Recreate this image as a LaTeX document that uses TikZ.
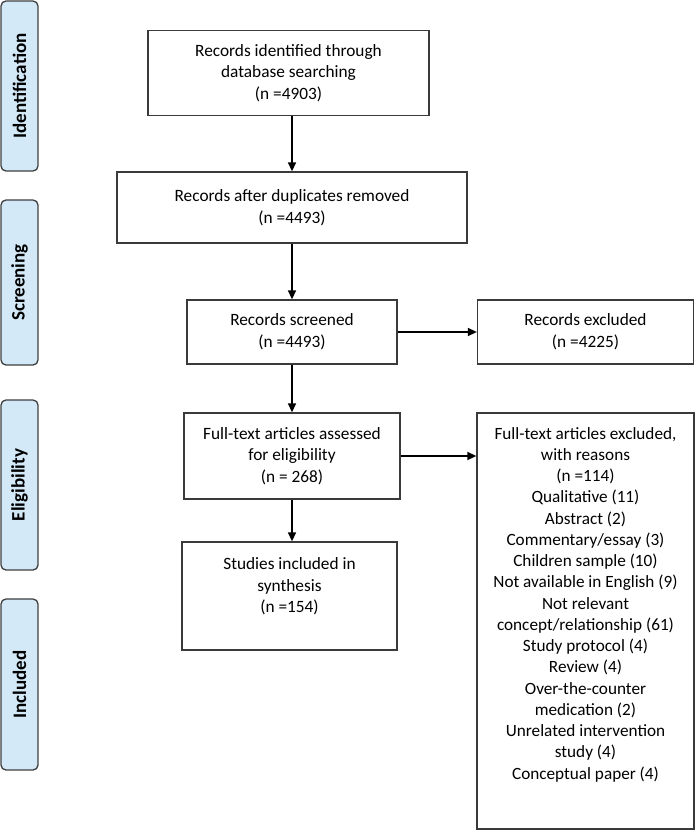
\documentclass[tikz,border=0pt]{standalone}
\usepackage{fontspec}
\setmainfont{Carlito}
\usetikzlibrary{arrows.meta}
\definecolor{sidefill}{HTML}{D3E9F8}
\definecolor{sideline}{HTML}{3F3F3F}
\definecolor{boxline}{HTML}{3A3A3A}
\tikzset{
  x=1pt, y=-1pt,
  sidebox/.style={draw=sideline, line width=1.3pt, fill=sidefill, rounded corners=5pt,
    rotate=90, minimum height=37pt, inner sep=0pt,
    font={\bfseries\fontsize{19pt}{22pt}\selectfont}},
  flowbox/.style={draw=boxline, line width=1.3pt, align=center, inner sep=0pt,
    font={\fontsize{17.3pt}{21.7pt}\selectfont}},
  conn/.style={line width=1.4pt, -{Triangle[length=9pt,width=8pt]}}
}
\begin{document}
\begin{tikzpicture}
\useasboundingbox (0,0) rectangle (695,830);
% side labels
\node[sidebox, minimum width=170pt] (sid) at (19.5,86) {Identification};
\node[sidebox, minimum width=165pt] (sscr) at (19.5,282.5) {Screening};
\node[sidebox, minimum width=170pt] (sel) at (19.5,485) {Eligibility};
\node[sidebox, minimum width=171pt] (sinc) at (19.5,684.5) {Included};
% main boxes
\node[flowbox, minimum width=281pt, minimum height=85pt] (b1) at (288.5,73)
  {Records identified through\\database searching\\(n =4903)};
\node[flowbox, minimum width=350pt, minimum height=71pt] (b2) at (292,207.5)
  {Records after duplicates removed\\(n =4493)};
\node[flowbox, minimum width=210pt, minimum height=64pt] (b3) at (292,332)
  {Records screened\\(n =4493)};
\node[flowbox, minimum width=216pt, minimum height=64pt] (b3x) at (585.5,332)
  {Records excluded\\(n =4225)};
\node[flowbox, minimum width=216pt, minimum height=86pt] (b4) at (292,456)
  {Full-text articles assessed\\for eligibility\\(n = 268)};
\node[flowbox, minimum width=215pt, minimum height=108pt] (b5) at (289.5,596)
  {Studies included in\\synthesis\\(n =154)\\\mbox{}};
\node[draw=boxline, line width=1.3pt, minimum width=217pt, minimum height=416pt, inner sep=0pt] (b4x) at (585.5,621) {};
\node[align=center, anchor=north, inner sep=0pt, font={\fontsize{17.2pt}{21.25pt}\selectfont}] (b4xt) at (585.5,427)
  {Full-text articles excluded,\\with reasons\\(n =114)\\Qualitative (11)\\Abstract (2)\\Commentary/essay (3)\\Children sample (10)\\Not available in English (9)\\Not relevant\\concept/relationship (61)\\Study protocol (4)\\Review (4)\\Over-the-counter\\medication (2)\\Unrelated intervention\\study (4)\\Conceptual paper (4)};
% connectors
\draw[conn] (b1.south -| b2.north) -- (b2.north);
\draw[conn] (b2.south) -- (b3.north);
\draw[conn] (b3.east) -- (b3x.west);
\draw[conn] (b3.south) -- (b4.north);
\draw[conn] (b4.east) -- (b4.east -| b4x.west);
\draw[conn] (b4.south) -- (b4.south |- b5.north);
\end{tikzpicture}
\end{document}
